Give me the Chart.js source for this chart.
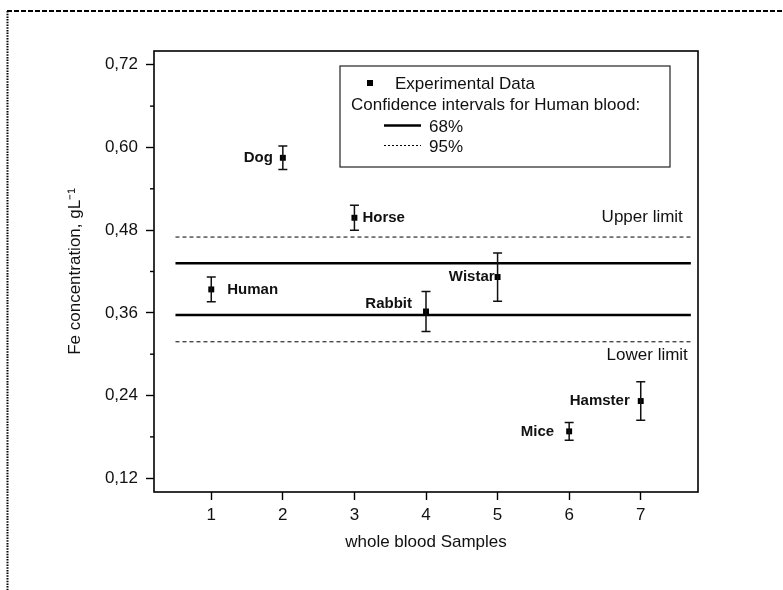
<!DOCTYPE html>
<html>
<head>
<meta charset="utf-8">
<script src="https://cdn.jsdelivr.net/npm/chart.js@4.4.0/dist/chart.umd.min.js"></script>
<style>
  html, body { margin: 0; padding: 0; background: #fff; }
  #wrap { width: 783px; height: 590px; position: relative; }
</style>
</head>
<body>
<div id="wrap"><canvas id="chart" width="783" height="590"></canvas></div>
<script>
// Whole blood samples and their measured Fe concentration (g/L)
const samples = [1, 2, 3, 4, 5, 6, 7];
const sampleNames = ['Human', 'Dog', 'Horse', 'Rabbit', 'Wistar', 'Mice', 'Hamster'];
const feMean = [0.394, 0.585, 0.498, 0.362, 0.412, 0.188, 0.232];
const feError = [0.018, 0.017, 0.018, 0.029, 0.035, 0.013, 0.028];

// Confidence intervals for human blood (lower, upper)
const ci68 = [0.357, 0.432];
const ci95 = [0.318, 0.470];
const intervalSpan = [0.5, 7.7];

// Axis ticks
const xTicks = [1, 2, 3, 4, 5, 6, 7];
const yTicks = [0.12, 0.24, 0.36, 0.48, 0.60, 0.72];
const yMinorTicks = [0.18, 0.30, 0.42, 0.54, 0.66];

const FONT = "'Liberation Sans', Arial, Helvetica, sans-serif";
const INK = '#111';

// Placement of the sample names next to their markers
const nameStyle = {
  Human:   { align: 'left',  dx: 16,  dy: 0 },
  Dog:     { align: 'right', dx: -10, dy: 0 },
  Horse:   { align: 'left',  dx: 8,   dy: 0 },
  Rabbit:  { align: 'right', dx: -14, dy: -8 },
  Wistar:  { align: 'right', dx: -3,  dy: 0 },
  Mice:    { align: 'right', dx: -15, dy: 0 },
  Hamster: { align: 'right', dx: -11, dy: 0 }
};

function hLine(value, label, width, dash) {
  return {
    type: 'line',
    label: label,
    data: intervalSpan.map(x => ({ x: x, y: value })),
    borderColor: '#000',
    borderWidth: width,
    borderDash: dash,
    pointRadius: 0,
    fill: false,
    order: 2
  };
}

// Dashed/dotted frame around the figure
const figureFrame = {
  id: 'figureFrame',
  beforeDraw(chart) {
    const ctx = chart.ctx;
    ctx.save();
    ctx.strokeStyle = '#000';
    ctx.lineWidth = 2;
    ctx.setLineDash([5, 2]);
    ctx.beginPath();
    ctx.moveTo(7, 11);
    ctx.lineTo(783, 11);
    ctx.stroke();
    ctx.lineWidth = 2;
    ctx.setLineDash([1.5, 1.2]);
    ctx.beginPath();
    ctx.moveTo(7.5, 11);
    ctx.lineTo(7.5, 590);
    ctx.stroke();
    ctx.restore();
  }
};

// Plot frame, minor ticks, error bars, names and legend
const decorations = {
  id: 'decorations',
  afterDatasetsDraw(chart) {
    const ctx = chart.ctx;
    const xs = chart.scales.x, ys = chart.scales.y;
    const area = chart.chartArea;
    ctx.save();

    // frame
    ctx.strokeStyle = '#000';
    ctx.lineWidth = 1.6;
    ctx.setLineDash([]);
    ctx.strokeRect(area.left, area.top, area.right - area.left, area.bottom - area.top);

    // minor y ticks
    ctx.lineWidth = 1.4;
    yMinorTicks.forEach(v => {
      const py = ys.getPixelForValue(v);
      ctx.beginPath();
      ctx.moveTo(area.left - 4, py);
      ctx.lineTo(area.left, py);
      ctx.stroke();
    });

    // error bars
    ctx.strokeStyle = '#111';
    ctx.lineWidth = 1.5;
    samples.forEach((s, i) => {
      const px = xs.getPixelForValue(s);
      const top = ys.getPixelForValue(feMean[i] + feError[i]);
      const bot = ys.getPixelForValue(feMean[i] - feError[i]);
      ctx.beginPath();
      ctx.moveTo(px, top); ctx.lineTo(px, bot);
      ctx.moveTo(px - 4.5, top); ctx.lineTo(px + 4.5, top);
      ctx.moveTo(px - 4.5, bot); ctx.lineTo(px + 4.5, bot);
      ctx.stroke();
    });

    // sample names
    ctx.fillStyle = INK;
    ctx.font = 'bold 15px ' + FONT;
    ctx.textBaseline = 'middle';
    samples.forEach((s, i) => {
      const st = nameStyle[sampleNames[i]];
      ctx.textAlign = st.align;
      ctx.fillText(sampleNames[i], xs.getPixelForValue(s) + st.dx, ys.getPixelForValue(feMean[i]) + st.dy);
    });

    // limit captions
    ctx.font = '17px ' + FONT;
    ctx.textAlign = 'right';
    const xEnd = xs.getPixelForValue(intervalSpan[1]);
    ctx.fillText('Upper limit', xEnd - 8, ys.getPixelForValue(ci95[1]) - 20);
    ctx.fillText('Lower limit', xEnd - 3, ys.getPixelForValue(ci95[0]) + 14);

    // legend
    const lx = 340, ly = 66, lw = 330, lh = 101;
    ctx.strokeStyle = '#222';
    ctx.lineWidth = 1.2;
    ctx.strokeRect(lx, ly, lw, lh);
    ctx.fillStyle = '#000';
    ctx.fillRect(367, 80, 6, 6);
    ctx.fillStyle = INK;
    ctx.textAlign = 'left';
    ctx.fillText('Experimental Data', 395, 84);
    ctx.fillText('Confidence intervals for Human blood:', 351, 105);
    ctx.strokeStyle = '#000';
    ctx.lineWidth = 2.5;
    ctx.beginPath(); ctx.moveTo(384, 125.5); ctx.lineTo(421, 125.5); ctx.stroke();
    ctx.fillText('68%', 429, 127);
    ctx.lineWidth = 1;
    ctx.setLineDash([2, 2]);
    ctx.beginPath(); ctx.moveTo(384, 145.5); ctx.lineTo(421, 145.5); ctx.stroke();
    ctx.setLineDash([]);
    ctx.fillText('95%', 429, 147);

    ctx.restore();
  }
};

new Chart(document.getElementById('chart'), {
  type: 'scatter',
  data: {
    datasets: [
      {
        label: 'Experimental Data',
        data: samples.map((s, i) => ({ x: s, y: feMean[i] })),
        pointStyle: 'rect',
        pointRadius: 4.2,
        pointBackgroundColor: '#000',
        pointBorderWidth: 0,
        showLine: false,
        order: 1
      },
      hLine(ci68[0], '68%', 2.5, []),
      hLine(ci68[1], '68%', 2.5, []),
      hLine(ci95[0], '95%', 1, [4, 3]),
      hLine(ci95[1], '95%', 1, [4, 3])
    ]
  },
  options: {
    responsive: false,
    animation: false,
    devicePixelRatio: 1,
    layout: { padding: { top: 51, right: 85, left: 0, bottom: 0 } },
    plugins: {
      legend: { display: false },
      tooltip: { enabled: false }
    },
    scales: {
      x: {
        type: 'linear',
        min: 0.2,
        max: 7.8,
        afterBuildTicks: s => { s.ticks = xTicks.map(v => ({ value: v })); },
        afterFit: s => { s.height = 98; },
        grid: { drawOnChartArea: false, drawTicks: true, tickLength: 8, tickWidth: 1.4, tickColor: '#000' },
        border: { display: false },
        ticks: {
          padding: 5,
          color: INK,
          font: { family: FONT, size: 17 },
          callback: v => String(v)
        },
        title: {
          display: true,
          text: 'whole blood Samples',
          color: INK,
          font: { family: FONT, size: 17 },
          padding: { top: 0, bottom: 37 }
        }
      },
      y: {
        type: 'linear',
        min: 0.1,
        max: 0.74,
        afterBuildTicks: s => { s.ticks = yTicks.map(v => ({ value: v })); },
        afterFit: s => { s.width = 154; },
        grid: { drawOnChartArea: false, drawTicks: true, tickLength: 8, tickWidth: 1.4, tickColor: '#000' },
        border: { display: false },
        ticks: {
          padding: 8,
          color: INK,
          font: { family: FONT, size: 17 },
          callback: v => v.toFixed(2).replace('.', ',')
        },
        title: {
          display: true,
          text: 'Fe concentration, gL⁻¹',
          color: INK,
          font: { family: FONT, size: 17 },
          padding: { top: 65, bottom: 0 }
        }
      }
    }
  },
  plugins: [figureFrame, decorations]
});
</script>
</body>
</html>
